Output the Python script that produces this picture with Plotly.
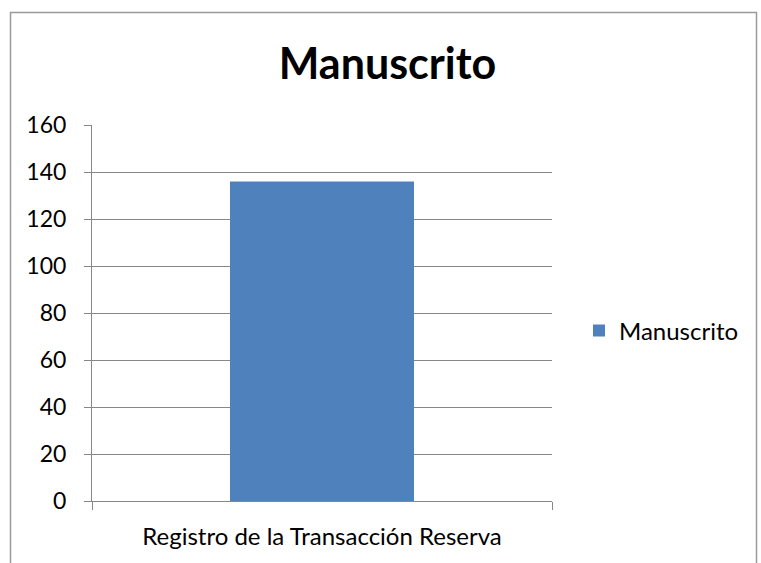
import plotly.graph_objects as go

# Data
categories = ["Registro de la Transacción Reserva"]
series_name = "Manuscrito"
values = [136]
y_ticks = [0, 20, 40, 60, 80, 100, 120, 140, 160]

W, H = 761, 563
L, R, T, B = 92, 209, 125, 62
plot_w = W - L - R
plot_h = H - T - B

grid = "#878787"
font = "Lato, Calibri, sans-serif"

fig = go.Figure()
fig.add_trace(go.Bar(
    x=categories,
    y=values,
    name=series_name,
    marker=dict(color="#4F81BD", line=dict(width=0)),
    width=0.4,
    showlegend=True,
))

# outer chart border (pixel positions converted to paper units)
def px_x(px):
    return (px - L) / plot_w

def px_y(py):
    return (H - B - py) / plot_h

fig.add_shape(type="rect", xref="paper", yref="paper",
              x0=px_x(10.5), x1=px_x(756.5), y0=px_y(580), y1=px_y(12.5),
              line=dict(color="#9a9a9a", width=1.5), fillcolor="rgba(0,0,0,0)",
              layer="below")

fig.update_layout(
    width=W, height=H,
    margin=dict(l=L, r=R, t=T, b=B, pad=0),
    paper_bgcolor="white",
    plot_bgcolor="white",
    font=dict(family=font, color="black", size=23),
    title=dict(text="<b>Manuscrito</b>", x=387.5 / W, xref="container", xanchor="center",
               y=1 - 64 / H, yref="container", yanchor="middle",
               font=dict(family=font, size=43, color="black")),
    bargap=0.6,
    legend=dict(x=px_x(579), y=px_y(331), xanchor="left", yanchor="middle",
                font=dict(family=font, size=24, color="black"),
                bgcolor="rgba(0,0,0,0)", itemwidth=30),
    xaxis=dict(
        type="category",
        range=[-0.5, 0.5],
        showline=True, linecolor=grid, linewidth=1,
        ticks="outside", ticklen=8, tickcolor=grid, tickwidth=1,
        tickson="boundaries",
        showgrid=False,
        ticklabelstandoff=14,
        tickfont=dict(family=font, size=24, color="black"),
        fixedrange=True,
    ),
    yaxis=dict(
        range=[0, 160],
        tickvals=y_ticks,
        showline=True, linecolor=grid, linewidth=1,
        ticks="outside", ticklen=7, tickcolor=grid, tickwidth=1,
        showgrid=True, gridcolor=grid, gridwidth=1,
        zeroline=False,
        ticklabelstandoff=13,
        tickfont=dict(family=font, size=23, color="black"),
        fixedrange=True,
    ),
)

fig.write_html("out.html")
